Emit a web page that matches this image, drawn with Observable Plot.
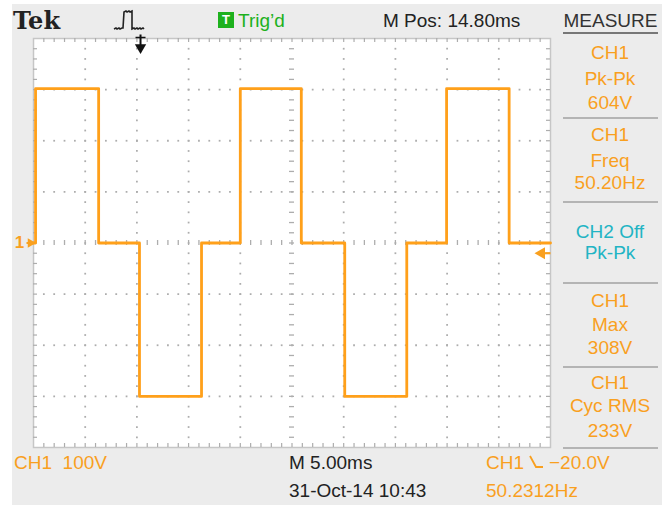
<!DOCTYPE html>
<html><head><meta charset="utf-8">
<script src="https://cdn.jsdelivr.net/npm/d3@7"></script>
<script src="https://cdn.jsdelivr.net/npm/@observablehq/plot@0.6"></script>
<style>
html,body{margin:0;padding:0;background:#fff;}
#wrap{position:relative;width:662px;height:505px;overflow:hidden;}
#bg{position:absolute;left:12px;top:4px;right:0;bottom:0;background:#ececec;}
#chart{position:absolute;left:0;top:0;}
.t{position:absolute;font-family:"Liberation Sans",Arial,sans-serif;font-size:19px;line-height:19px;white-space:pre;}
.c{text-align:center;}
.sep{position:absolute;left:563px;width:95px;height:2px;background:#b4b4b4;}
</style></head><body>
<div id="wrap"><div id="bg"></div><div id="chart"></div></div>
<script>
const timeMs = [0, 0.2, 6.3, 10.25, 16.25, 20.0, 25.9, 30.1, 36.1, 39.95, 46.0, 50];
const volts  = [0, 302, 0, -300, 0, 302, 0, -300, 0, 302, 0, 0];
const triggerLevelV = -20;
const triggerPosMs = 10.35;
const headerLabels = ["Tek", "Trig’d", "M Pos: 14.80ms", "MEASURE"];
const panelBlocks = [
  ["CH1", "Pk-Pk", "604V"],
  ["CH1", "Freq", "50.20Hz"],
  ["CH2 Off", "Pk-Pk"],
  ["CH1", "Max", "308V"],
  ["CH1", "Cyc RMS", "233V"]
];
const footerLabels = ["CH1  100V", "M 5.00ms", "31-Oct-14 10:43", "CH1", "−20.0V", "50.2312Hz"];
// grid: 10 divisions of 5 ms, 8 divisions of 100 V, 5 minor steps each
const xMajor = d3.range(0, 50.001, 5);
const xMinor = d3.range(0, 50.001, 1);
const yMajor = d3.range(-400, 400.001, 100);
const yMinor = d3.range(-400, 400.001, 20);

const orange = "#f9a01f", traceCol = "#ffa01a", cyan = "#22b4c4", green = "#1db11d", gridCol = "#adadad";

const trace = timeMs.map((t, i) => ({t, v: volts[i]}));
const innerX = xMajor.filter(x => x > 0 && x < 50 && x !== 25);
const innerY = yMajor.filter(y => y > -400 && y < 400 && y !== 0);
const vDots = innerX.flatMap(x => yMinor.filter(y => y > -400 && y < 400).map(y => ({x, y})));
const hDots = innerY.flatMap(y => xMinor.filter(x => x > 0 && x < 50).map(x => ({x, y})));
const xIn = xMinor.filter(x => x > 0 && x < 50);
const yIn = yMinor.filter(y => y > -400 && y < 400);

const pxPerMs = 517 / 50, pxPerV = 409 / 800;
const vpx = p => p / pxPerV, mpx = p => p / pxPerMs;

const plot = Plot.plot({
  width: 662, height: 505,
  marginLeft: 33, marginRight: 112, marginTop: 38, marginBottom: 58,
  x: {domain: [0, 50], axis: null},
  y: {domain: [-400, 400], axis: null},
  style: {background: "transparent", overflow: "visible"},
  marks: [
    Plot.frame({fill: "#fff", stroke: "#c6c6c6", strokeWidth: 1.5}),
    Plot.dot(vDots, {x: "x", y: "y", symbol: "square", r: 1.0, fill: gridCol, stroke: null}),
    Plot.dot(hDots, {x: "x", y: "y", symbol: "square", r: 1.0, fill: gridCol, stroke: null}),
    // centre cross ticks
    Plot.ruleX(xIn, {x: d => d, y1: vpx(-2.5), y2: vpx(2.5), stroke: gridCol, strokeWidth: 1.3}),
    Plot.ruleY(yIn, {y: d => d, x1: 25 - mpx(2.5), x2: 25 + mpx(2.5), stroke: gridCol, strokeWidth: 1.3}),
    // border ticks
    Plot.ruleX(xIn, {x: d => d, y1: 400, y2: 400 - vpx(4), stroke: gridCol, strokeWidth: 1.2}),
    Plot.ruleX(xIn, {x: d => d, y1: -400, y2: -400 + vpx(4), stroke: gridCol, strokeWidth: 1.2}),
    Plot.ruleY(yIn, {y: d => d, x1: 0, x2: mpx(4), stroke: gridCol, strokeWidth: 1.2}),
    Plot.ruleY(yIn, {y: d => d, x1: 50, x2: 50 - mpx(4), stroke: gridCol, strokeWidth: 1.2}),
    // trace
    Plot.line(trace, {x: "t", y: "v", curve: "step-after", stroke: traceCol, strokeWidth: 2.8}),
    // channel 1 ground marker
    Plot.text(["1"], {x: 0, y: 0, dx: -14, text: d => d, fill: orange, fontSize: 17, fontWeight: "bold", fontFamily: "Liberation Sans, Arial, sans-serif"}),
    Plot.link([0], {x1: 0, x2: mpx(-7), y1: 0, y2: 0, stroke: orange, strokeWidth: 2}),
    Plot.dot([0], {x: 0, y: 0, dx: -3, symbol: "triangle", rotate: 90, r: 3.5, fill: orange, stroke: null}),
    // trigger level marker
    Plot.link([0], {x1: 50, x2: 50 - mpx(8), y1: triggerLevelV, y2: triggerLevelV, stroke: orange, strokeWidth: 2.2}),
    Plot.dot([0], {x: 50 - mpx(9), y: triggerLevelV, symbol: "triangle", rotate: -90, r: 4.5, fill: orange, stroke: null}),
    // trigger position marker
    Plot.link([0], {x1: triggerPosMs, x2: triggerPosMs, y1: 400 + vpx(4), y2: 400 - vpx(8), stroke: "#111", strokeWidth: 2}),
    Plot.link([0], {x1: triggerPosMs - mpx(5), x2: triggerPosMs + mpx(5), y1: 400 + vpx(1), y2: 400 + vpx(1), stroke: "#111", strokeWidth: 1.5}),
    Plot.dot([0], {x: triggerPosMs, y: 400 - vpx(9), symbol: "triangle", rotate: 180, r: 4.2, fill: "#111", stroke: null})
  ]
});
document.getElementById("chart").appendChild(plot);

const wrap = document.getElementById("wrap");
function addText(txt, opts) {
  const d = document.createElement("div");
  d.className = "t" + (opts.center ? " c" : "");
  d.textContent = txt;
  d.style.left = opts.x + "px";
  d.style.top = (opts.cy - 9.5) + "px";
  if (opts.w) d.style.width = opts.w + "px";
  d.style.color = opts.color || "#111";
  if (opts.font) d.style.fontFamily = opts.font;
  if (opts.size) { d.style.fontSize = opts.size + "px"; d.style.lineHeight = opts.size + "px"; d.style.top = (opts.cy - opts.size * 0.5) + "px"; }
  if (opts.weight) d.style.fontWeight = opts.weight;
  wrap.appendChild(d);
  return d;
}
// header
addText(headerLabels[0], {x: 13, cy: 21, size: 24, font: "'DejaVu Serif', 'Liberation Serif', serif", weight: "bold", color: "#222"});
addText(headerLabels[1], {x: 238, cy: 20, color: green});
addText(headerLabels[2], {x: 383, cy: 20, color: "#222"});
addText(headerLabels[3], {x: 563, cy: 20, w: 95, center: true, color: "#333"});
// T box
const tb = document.createElement("div");
tb.style.cssText = "position:absolute;left:218px;top:12px;width:16px;height:16px;background:" + green + ";color:#fff;font:bold 13px 'Liberation Sans',Arial,sans-serif;text-align:center;line-height:16px;";
tb.textContent = "T";
wrap.appendChild(tb);
// trigger-type icon (pulse)
const ns = "http://www.w3.org/2000/svg";
function icon(x, y, w, h, d, sw) {
  const s = document.createElementNS(ns, "svg");
  s.setAttribute("width", w); s.setAttribute("height", h);
  s.style.cssText = "position:absolute;left:" + x + "px;top:" + y + "px;overflow:visible";
  const p = document.createElementNS(ns, "path");
  p.setAttribute("d", d); p.setAttribute("fill", "none"); p.setAttribute("stroke", "#222"); p.setAttribute("stroke-width", sw);
  s.appendChild(p); wrap.appendChild(s); return p;
}
icon(114, 10, 40, 22, "M0 19 l2 -1 l1 1 l2 -1 l1 1 l2 -1 l1 0 L10 2 l2 -1 l1 1 l2 -1 l1 1 l2 -1 L18 19 l2 -1 l1 1 l2 -1 l1 1 l2 -1 l1 1 l2 -1 l1 1", 1.6);
// measure underline + separators
const sepYs = [33, 118, 202, 283, 367, 448];
sepYs.forEach((y, i) => {
  const s = document.createElement("div");
  s.className = "sep"; s.style.top = (y - 1) + "px";
  if (i === 0) s.style.background = "#777";
  wrap.appendChild(s);
});
const blockCY = [[52, 78, 102], [134, 160, 182], [231, 252], [300, 324, 347], [382, 405, 430]];
panelBlocks.forEach((blk, bi) => {
  blk.forEach((line, li) => {
    addText(line, {x: 563, w: 94, cy: blockCY[bi][li], center: true, color: bi === 2 ? cyan : orange});
  });
});
// footer
addText(footerLabels[0], {x: 14, cy: 462, color: orange});
addText(footerLabels[1], {x: 289, cy: 462, color: "#222"});
addText(footerLabels[2], {x: 289, cy: 490, color: "#222"});
const ch = addText(footerLabels[3], {x: 486, cy: 462, color: orange});
const ix = 486 + ch.offsetWidth + 5;
const edge = icon(ix, 455, 14, 14, "M1 1 L7 12 L14 12", 1.8);
edge.setAttribute("stroke", orange);
addText(footerLabels[4], {x: ix + 20, cy: 462, color: orange});
addText(footerLabels[5], {x: 486, cy: 490, color: orange});
</script>
</body></html>
